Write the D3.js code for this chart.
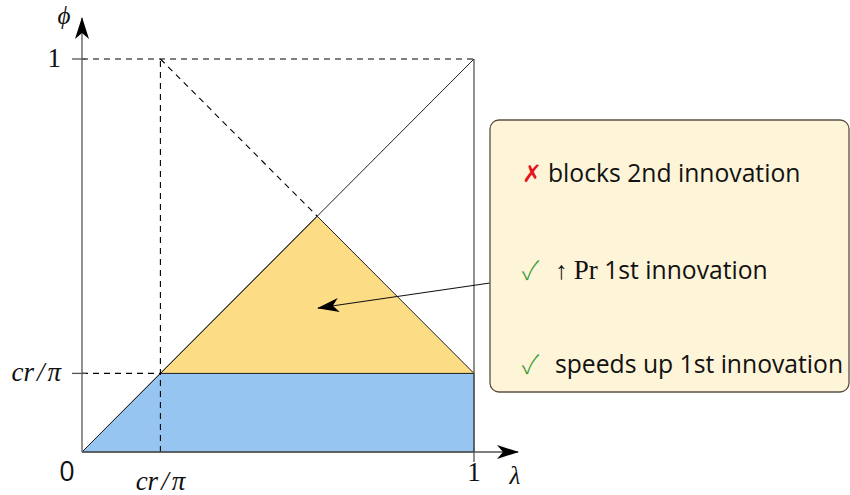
<!DOCTYPE html>
<html>
<head>
<meta charset="utf-8">
<script src="https://cdn.jsdelivr.net/npm/d3@7"></script>
<style>
  html, body { margin: 0; padding: 0; background: #fff; }
  svg { display: block; }
  .math { font-family: "Liberation Serif", "DejaVu Serif", serif; font-style: italic; }
  .num { font-family: "Liberation Serif", "DejaVu Serif", serif; }
  .note { font-family: "Open Sans", "Noto Sans", sans-serif; }
</style>
</head>
<body>
<svg id="chart" width="850" height="495"></svg>
<script>
// Threshold cr/π and the point where the two boundaries meet
const threshold = 0.2;
const apex = 0.6;

// Shaded regions in (λ, φ)
const blueRegion = [[0, 0], [threshold, threshold], [1, threshold], [1, 0]];
const yellowRegion = [[threshold, threshold], [apex, apex], [1, threshold]];

// Guide lines
const diagonal = [[0, 0], [1, 1]];
const dashedLines = [
  [[0, 1], [1, 1]],
  [[threshold, 0], [threshold, 1]],
  [[0, threshold], [threshold, threshold]],
  [[threshold, 1], [apex, apex]]
];

// Tick labels
const xTicks = [{ v: 0, t: "0" }, { v: threshold, t: "cr/π" }, { v: 1, t: "1" }];
const yTicks = [{ v: threshold, t: "cr/π" }, { v: 1, t: "1" }];

// Notes in the callout box
const notes = [
  { mark: "✗", markColor: "#e8141a", text: "blocks 2nd innovation" },
  { mark: "✓", markColor: "#3a9e3a", text: "↑ Pr 1st innovation" },
  { mark: "✓", markColor: "#3a9e3a", text: "speeds up 1st innovation" }
];

const svg = d3.select("#chart");
const x = d3.scaleLinear().domain([0, 1]).range([82, 474]);
const y = d3.scaleLinear().domain([0, 1]).range([452, 59]);
const line = d3.line().x(d => x(d[0])).y(d => y(d[1]));

// Stealth-style arrow head
svg.append("defs").append("marker")
  .attr("id", "tip").attr("viewBox", "0 0 22 14")
  .attr("refX", 21).attr("refY", 7)
  .attr("markerWidth", 22).attr("markerHeight", 14)
  .attr("markerUnits", "userSpaceOnUse").attr("orient", "auto")
  .append("path").attr("d", "M0,0 L22,7 L0,14 L6,7 Z").attr("fill", "#000");

svg.append("path").datum(blueRegion)
  .attr("d", d => line(d) + "Z").attr("fill", "#97c5f2").attr("stroke", "#222").attr("stroke-width", 1);
svg.append("path").datum(yellowRegion)
  .attr("d", d => line(d) + "Z").attr("fill", "#fddc86").attr("stroke", "#222").attr("stroke-width", 1);

// Right edge of the unit square
svg.append("path").datum([[1, 0], [1, 1]]).attr("d", line)
  .attr("stroke", "#555").attr("stroke-width", 1.3).attr("fill", "none");

svg.append("path").datum(diagonal).attr("d", line)
  .attr("stroke", "#222").attr("stroke-width", 1).attr("fill", "none");

svg.selectAll(".dash").data(dashedLines).enter().append("path")
  .attr("class", "dash").attr("d", line)
  .attr("stroke", "#000").attr("stroke-width", 1.1)
  .attr("stroke-dasharray", "6,5").attr("fill", "none");

// Axes with arrow heads
svg.append("line").attr("x1", x(0)).attr("y1", y(0)).attr("x2", 518).attr("y2", y(0))
  .attr("stroke", "#555").attr("stroke-width", 1.3).attr("marker-end", "url(#tip)");
svg.append("line").attr("x1", x(0)).attr("y1", y(0)).attr("x2", x(0)).attr("y2", 18)
  .attr("stroke", "#555").attr("stroke-width", 1.3).attr("marker-end", "url(#tip)");

// Tick marks
svg.append("line").attr("x1", x(1)).attr("x2", x(1)).attr("y1", y(0) - 4).attr("y2", y(0) + 10)
  .attr("stroke", "#555").attr("stroke-width", 1.3);
svg.append("line").attr("x1", x(0) - 10).attr("x2", x(0) + 4).attr("y1", y(1)).attr("y2", y(1))
  .attr("stroke", "#555").attr("stroke-width", 1.3);
svg.append("line").attr("x1", x(0) - 10).attr("x2", x(0) + 4).attr("y1", y(threshold)).attr("y2", y(threshold))
  .attr("stroke", "#555").attr("stroke-width", 1.3);

function writeLabel(sel, t) {
  if (t === "cr/π") {
    sel.attr("class", "math");
    sel.append("tspan").text("cr");
    sel.append("tspan").attr("dx", 3).text("/");
    sel.append("tspan").attr("dx", 3).text("π");
  } else if (t === "0") {
    sel.attr("class", "note").text(t);
  } else {
    sel.attr("class", "num").text(t);
  }
}

xTicks.forEach(d => {
  const tx = d.v === 0 ? 67 : x(d.v);
  const ty = d.v === threshold ? 490 : 481;
  const el = svg.append("text").attr("x", tx).attr("y", ty)
    .attr("text-anchor", "middle").attr("font-size", 27).attr("fill", "#111");
  writeLabel(el, d.t);
});
yTicks.forEach(d => {
  const el = svg.append("text").attr("x", 61).attr("y", y(d.v) + 8)
    .attr("text-anchor", "end").attr("font-size", 27).attr("fill", "#111");
  writeLabel(el, d.t);
});

svg.append("text").attr("class", "math").attr("x", 515).attr("y", 484)
  .attr("text-anchor", "middle").attr("font-size", 25).attr("fill", "#111").text("λ");
svg.append("text").attr("class", "math").attr("x", 64).attr("y", 24)
  .attr("text-anchor", "middle").attr("font-size", 25).attr("fill", "#111").text("ϕ");

// Callout arrow into the triangle
svg.append("line").attr("x1", 490).attr("y1", 283).attr("x2", 318).attr("y2", 308)
  .attr("stroke", "#111").attr("stroke-width", 1.1).attr("marker-end", "url(#tip)");

// Callout box
svg.append("rect").attr("x", 490).attr("y", 120).attr("width", 359).attr("height", 272)
  .attr("rx", 9).attr("ry", 9).attr("fill", "#fef4d8").attr("stroke", "#5a5040").attr("stroke-width", 1.3);

const rows = [182, 279, 373];
notes.forEach((n, i) => {
  const isCheck = n.mark === "✓";
  svg.append("text").attr("x", 522).attr("y", rows[i] + (isCheck ? 1 : 0))
    .attr("font-family", isCheck ? "Noto Sans CJK JP, DejaVu Sans, sans-serif" : "Open Sans, sans-serif")
    .attr("font-weight", isCheck ? 300 : 400)
    .attr("font-size", isCheck ? 26 : 24)
    .attr("fill", n.markColor).text(n.mark);
  const t = svg.append("text").attr("class", "note").attr("x", isCheck ? 555 : 548).attr("y", rows[i])
    .attr("font-size", 24.7).attr("fill", "#111");
  if (n.text.startsWith("↑ Pr")) {
    t.append("tspan").text("↑ ");
    t.append("tspan").attr("font-family", "Liberation Serif, DejaVu Serif, serif").attr("font-size", 27).text("Pr");
    t.append("tspan").text(" 1st innovation");
  } else {
    t.append("tspan").text(n.text);
  }
});
</script>
</body>
</html>
